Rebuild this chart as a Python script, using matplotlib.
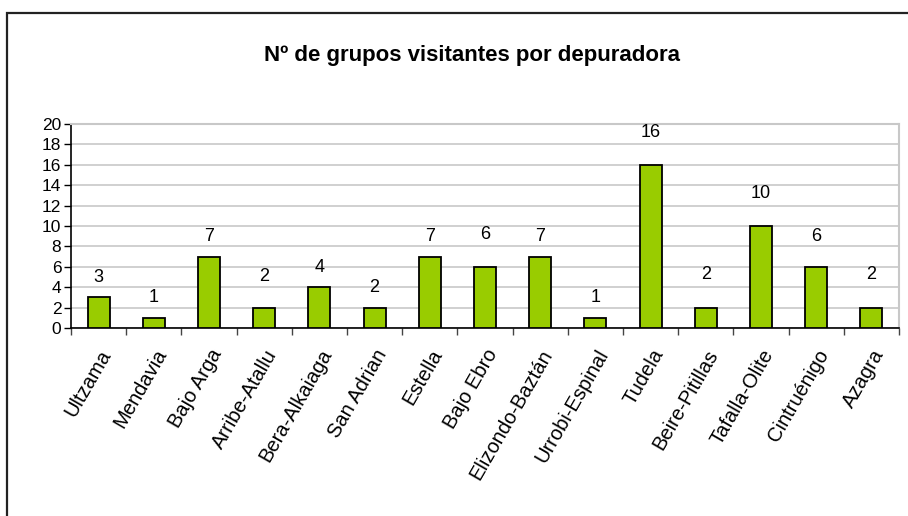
import matplotlib
matplotlib.use('Agg')
from matplotlib import pyplot as plt
from matplotlib.patches import Rectangle
import numpy as np

depuradoras = ['Ultzama', 'Mendavia', 'Bajo Arga', 'Arribe-Atallu', 'Bera-Alkaiaga',
               'San Adrian', 'Estella', 'Bajo Ebro', 'Elizondo-Baztán', 'Urrobi-Espinal',
               'Tudela', 'Beire-Pitillas', 'Tafalla-Olite', 'Cintruénigo', 'Azagra']
grupos = [3, 1, 7, 2, 4, 2, 7, 6, 7, 1, 16, 2, 10, 6, 2]
y_ticks = [0, 2, 4, 6, 8, 10, 12, 14, 16, 18, 20]

# distancia de cada etiqueta sobre su barra (en puntos)
label_pad = [14.5, 14.5, 14.5, 22.5, 14.5, 14.5, 14.5, 23, 14.5, 14.5, 23.5, 23.5, 23.5, 21.5, 23.5]

plt.rcParams['font.family'] = ['Liberation Sans', 'DejaVu Sans']

fig = plt.figure(figsize=(9.08, 5.16), dpi=100)
ax = fig.add_axes([0.0782, 0.3643, 0.9119, 0.3953])

# Marco exterior del gráfico
fig.patches.append(Rectangle((7 / 908, -0.1), 1.2, 1 - 13 / 516 + 0.1,
                             transform=fig.transFigure, fill=False,
                             edgecolor='#222222', linewidth=1.6))

x = np.arange(len(grupos))
ax.bar(x, grupos, width=0.4, color='#99CC00', edgecolor='black',
       linewidth=1.3, zorder=3)

for xi, v, pad in zip(x, grupos, label_pad):
    ax.annotate(str(v), (xi, v), xytext=(0, pad), textcoords='offset points',
                ha='center', va='center', fontsize=13)

ax.set_xlim(-0.5, len(grupos) - 0.5)
ax.set_ylim(0, 20)
ax.set_yticks(y_ticks)
ax.yaxis.grid(True, color='#C8C8C8', linewidth=1.2, zorder=0)
ax.set_axisbelow(True)

ax.set_xticks(x)
ax.set_xticklabels(depuradoras, rotation=60, ha='right', rotation_mode='anchor',
                   fontsize=14.5)
ax.set_xticks(np.arange(-0.5, len(grupos)), minor=True)
ax.tick_params(axis='x', which='major', length=0, pad=13)
ax.tick_params(axis='x', which='minor', length=5, width=1, color='#444444')
ax.tick_params(axis='y', length=5, width=1, labelsize=12.5, pad=2)

for s in ['top', 'right']:
    ax.spines[s].set_color('#C8C8C8')
    ax.spines[s].set_linewidth(1.5)
for s in ['left', 'bottom']:
    ax.spines[s].set_color('black')
    ax.spines[s].set_linewidth(1.2)

fig.text(0.52, 1 - 55 / 516, 'Nº de grupos visitantes por depuradora',
         ha='center', va='center', fontsize=16, fontweight='bold')

plt.savefig('out.png', dpi=100)
